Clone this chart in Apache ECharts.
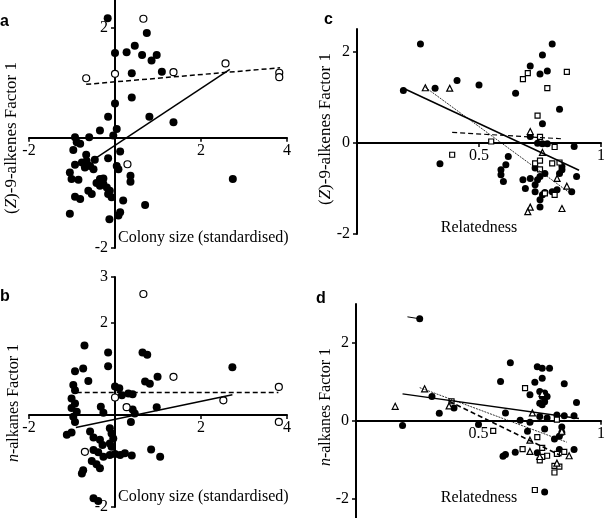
<!DOCTYPE html>
<html><head><meta charset="utf-8">
<script src="https://cdn.jsdelivr.net/npm/echarts@6/dist/echarts.min.js"></script>
<style>html,body{margin:0;padding:0;background:#fff}#c{width:608px;height:518px}</style>
</head><body><div id="c"></div>
<script>
// ---- Panel a: (Z)-9-alkenes Factor 1 vs colony size ----
const aFilled = [[-0.17,2.17],[0.74,1.90],[0,1.54],[0.27,1.55],[0.46,1.67],[0.63,1.50],[0.85,1.40],[0.97,1.50],[1.09,1.20],[0.39,1.17],[0.39,0.73],[0,0.62],[-0.16,0.38],[0.80,0.38],[1.36,0.28],[0.04,0.16],[-0.35,0.13],[-0.93,0.01],[-0.60,0.01],[-0.04,0.04],[-0.89,-0.08],[-0.81,-0.11],[-0.97,-0.22],[0.12,-0.25],[-0.16,-0.37],[-0.67,-0.31],[-0.47,-0.40],[-0.66,-0.42],[-0.77,-0.45],[-0.93,-0.49],[-0.58,-0.51],[-0.70,-0.54],[-0.50,-0.57],[-1.05,-0.63],[0.04,-0.51],[0.08,-0.57],[0.36,-0.69],[0.36,-0.80],[-1.01,-0.75],[-0.85,-0.76],[-0.35,-0.75],[-0.27,-0.74],[-0.43,-0.82],[-0.35,-0.87],[-0.27,-0.84],[-0.62,-0.96],[-0.54,-1.02],[-0.19,-0.90],[-0.12,-0.96],[-0.16,-1.02],[-0.08,-1.08],[-0.93,-1.07],[-0.81,-1.11],[0.19,-1.14],[-1.05,-1.38],[-0.13,-1.48],[0.08,-1.41],[0.12,-1.35],[0.70,-1.22],[2.74,-0.75]];
const aOpen = [[0.66,2.16],[0,1.16],[-0.67,1.08],[1.36,1.19],[2.57,1.35],[3.82,1.18],[3.82,1.10],[0.29,-0.48]];
const aSolidLine = [[-0.43,-0.36],[2.67,1.24]];
const aDashedLine = [[-0.67,0.97],[3.84,1.27]];

// ---- Panel b: n-alkanes Factor 1 vs colony size ----
const bFilled = [[-0.71,1.51],[-0.16,1.36],[0.64,1.36],[0.75,1.31],[-0.16,1.06],[-0.74,1.01],[-0.93,0.95],[-0.62,0.74],[0.99,0.83],[0.70,0.73],[0.81,0.68],[-0.97,0.65],[-0.93,0.54],[0,0.62],[0.10,0.58],[0.31,0.47],[0.16,0.43],[0.41,0.45],[-1.01,0.36],[-0.93,0.25],[-1.01,0.15],[-0.89,0.07],[-0.97,-0.04],[-0.93,-0.15],[-0.33,0.18],[-0.27,0.05],[0.41,0.12],[0.46,0.03],[0.37,-0.15],[-1.12,-0.43],[-1.01,-0.38],[-0.58,-0.36],[-0.50,-0.49],[-0.35,-0.54],[-0.29,-0.65],[-0.12,-0.29],[-0.08,-0.40],[-0.04,-0.51],[-0.12,-0.62],[-0.08,-0.69],[-0.50,-0.76],[-0.39,-0.81],[-0.27,-0.91],[-0.12,-0.87],[0,-0.85],[0.12,-0.87],[0.23,-0.83],[0.39,-0.88],[-0.54,-1.00],[-0.43,-1.07],[-0.35,-1.16],[-0.74,-1.20],[-0.77,-1.27],[-0.50,-1.81],[-0.39,-1.87],[0.97,0.17],[2.73,1.04],[0.84,-0.75],[1.05,-0.91]];
const bOpen = [[0.66,2.63],[1.36,0.83],[3.81,0.61],[2.52,0.32],[3.81,-0.15],[0.27,0.17],[0,0.38],[-0.70,-0.80]];
const bSolidLine = [[-0.91,-0.27],[2.73,0.44]];
const bDashedLine = [[-0.89,0.49],[3.80,0.49]];

// ---- Panel c: (Z)-9-alkenes Factor 1 vs relatedness ----
const cCircles = [[0.19,1.15],[0.26,2.17],[0.32,1.20],[0.41,1.37],[0.50,1.27],[0.34,-0.46],[0.65,1.09],[0.71,1.69],[0.75,1.51],[0.76,1.93],[0.78,1.58],[0.80,2.17],[0.83,0.74],[0.76,0.42],[0.71,0.14],[0.74,-0.01],[0.76,-0.02],[0.78,-0.02],[0.89,-0.08],[0.62,-0.30],[0.61,-0.48],[0.59,-0.59],[0.59,-0.70],[0.60,-0.85],[0.68,-0.81],[0.71,-0.78],[0.69,-1.00],[0.73,-0.92],[0.74,-0.81],[0.75,-0.74],[0.77,-0.67],[0.73,-1.07],[0.76,-1.14],[0.77,-1.09],[0.75,-1.25],[0.80,-1.07],[0.82,-1.03],[0.84,-0.59],[0.84,-0.52],[0.83,-0.67],[0.90,-0.74],[0.88,-1.07],[0.75,-1.41],[0.73,-0.55]];
const cSquares = [[0.55,0.03],[0.39,-0.26],[0.68,1.40],[0.70,1.53],[0.86,1.56],[0.78,1.20],[0.74,0.60],[0.75,0.13],[0.81,-0.09],[0.73,-0.45],[0.75,-0.39],[0.75,-0.58],[0.80,-0.45],[0.83,-0.43],[0.81,-1.14],[0.77,-1.11]];
const cTriangles = [[0.28,1.21],[0.38,1.20],[0.71,0.25],[0.76,-0.21],[0.82,-0.78],[0.86,-0.95],[0.71,-1.41],[0.70,-1.51],[0.84,-1.44]];
const cSolidLine = [[0.19,1.20],[0.91,-0.60]];
const cDashedLine = [[0.39,0.23],[0.84,0.09]];
const cDottedLine = [[0.28,1.22],[0.88,-1.13]];

// ---- Panel d: n-alkanes Factor 1 vs relatedness ----
const dCircles = [[0.26,2.62],[0.19,-0.12],[0.31,0.62],[0.34,0.19],[0.40,0.33],[0.50,-0.10],[0.59,1.01],[0.63,1.49],[0.61,0.20],[0.67,0.01],[0.71,-0.04],[0.71,0.67],[0.73,0.99],[0.74,1.39],[0.76,1.35],[0.79,1.35],[0.76,1.09],[0.85,0.95],[0.75,0.75],[0.77,0.71],[0.76,0.62],[0.78,0.62],[0.75,0.45],[0.77,0.49],[0.76,0.41],[0.90,0.47],[0.75,0.11],[0.78,0.07],[0.82,0.15],[0.85,0.13],[0.89,0.13],[0.70,-0.27],[0.77,-0.21],[0.84,-0.16],[0.84,-0.30],[0.81,-0.47],[0.83,-0.40],[0.60,-0.91],[0.61,-0.87],[0.65,-0.81],[0.74,-0.82],[0.83,-0.74],[0.89,-0.74],[0.77,-1.83]];
const dSquares = [[0.69,0.84],[0.39,0.50],[0.56,-0.26],[0.68,-0.73],[0.74,-0.42],[0.76,-0.70],[0.78,-0.90],[0.76,-0.93],[0.75,-1.02],[0.82,-0.85],[0.85,-0.80],[0.81,-1.16],[0.83,-1.18],[0.81,-1.33],[0.82,0.03],[0.73,-1.78]];
const dTriangles = [[0.16,0.37],[0.28,0.82],[0.38,0.38],[0.72,0.20],[0.76,0.70],[0.71,-0.50],[0.84,-0.27],[0.71,-0.79],[0.75,-0.92],[0.87,-0.90],[0.82,-1.09]];
const dSolidLine = [[0.19,0.69],[0.91,0.06]];
const dDashedLine = [[0.38,0.50],[0.84,-0.91]];
const dDottedLine = [[0.26,0.85],[0.86,-0.55]];
const dShortLine = [[0.21,2.67],[0.26,2.62]];

// ---- Axis ranges and tick labels ----
const xRanges = [[-2,4],[-2,4],[0,1],[0,1]];
const yRanges = [[-2,2.5],[-2,3],[-2,2.5],[-2.5,3]];
const xTickLabels = [[-2,2,4],[-2,2,4],[0.5,1],[0.5,1]];
const yTickLabels = [[-2,2],[-2,2,3],[-2,0,2],[-2,0,2]];

const SERIF = '"Liberation Serif", "Times New Roman", serif';
const chart = echarts.init(document.getElementById('c'), null, {renderer:'canvas'});

const grids = [
  {left:29, top:0, width:258, height:248},
  {left:29, top:277, width:258, height:230},
  {left:357, top:29, width:249, height:205},
  {left:356, top:304, width:248, height:214}
];

// axes cross at the origin: shift each axis from the grid edge to the zero of the other axis
function xAx(i){
  const g = grids[i], r = yRanges[i];
  const off = -g.height * (0 - r[0]) / (r[1] - r[0]);
  return {type:'value', gridIndex:i, min:xRanges[i][0], max:xRanges[i][1], position:'bottom', offset:off,
    axisLine:{onZero:false, lineStyle:{color:'#000', width:2}},
    axisTick:{show:true, length:4, customValues:xTickLabels[i], lineStyle:{color:'#000', width:1.5}},
    axisLabel:{customValues:xTickLabels[i], color:'#000', fontFamily:SERIF, fontSize:16, margin:5},
    splitLine:{show:false}};
}
function yAx(i){
  const g = grids[i], r = xRanges[i];
  const off = -g.width * (0 - r[0]) / (r[1] - r[0]);
  return {type:'value', gridIndex:i, min:yRanges[i][0], max:yRanges[i][1], position:'left', offset:off,
    axisLine:{onZero:false, lineStyle:{color:'#000', width:2}},
    axisTick:{show:true, length:4, customValues:yTickLabels[i], lineStyle:{color:'#000', width:1.5}},
    axisLabel:{customValues:yTickLabels[i], color:'#000', fontFamily:SERIF, fontSize:16, margin:7},
    splitLine:{show:false}};
}

function pts(i, data, symbol, size, open){
  return {type:'scatter', xAxisIndex:i, yAxisIndex:i, data:data, symbol:symbol, symbolSize:size,
    itemStyle: open ? {color:'#fff', borderColor:'#000', borderWidth:1.2, opacity:1} : {color:'#000', opacity:1},
    z: open ? 4 : 3, silent:true};
}
function ln(i, data, type, width){
  return {type:'line', xAxisIndex:i, yAxisIndex:i, data:data, symbol:'none',
    lineStyle:{color:'#000', width:width, type:type}, z:5, silent:true};
}

const series = [
  ln(0,aSolidLine,'solid',1.5), ln(0,aDashedLine,[5,3],1.5),
  pts(0,aFilled,'circle',8,false), pts(0,aOpen,'circle',7,true),
  ln(1,bSolidLine,'solid',1.5), ln(1,bDashedLine,[5,3],1.5),
  pts(1,bFilled,'circle',8,false), pts(1,bOpen,'circle',7,true),
  ln(2,cSolidLine,'solid',1.5), ln(2,cDashedLine,[5,3],1.2), ln(2,cDottedLine,[2,1],0.8),
  pts(2,cCircles,'circle',7,false), pts(2,cSquares,'rect',5,true), pts(2,cTriangles,'triangle',6,true),
  ln(3,dSolidLine,'solid',1.5), ln(3,dDashedLine,[5,3],1.5), ln(3,dDottedLine,[2,1],0.8), ln(3,dShortLine,'solid',1),
  pts(3,dCircles,'circle',7,false), pts(3,dSquares,'rect',5,true), pts(3,dTriangles,'triangle',6,true)
];

function rotTitle(x, y, text, size){
  return {type:'text', x:x, y:y, rotation:Math.PI/2, z:10,
    style:{text:text, fontFamily:SERIF, fontSize:size, fill:'#000', align:'center', verticalAlign:'middle',
      rich:{i:{fontStyle:'italic', fontFamily:SERIF, fontSize:size, fill:'#000'}, r:{fontFamily:SERIF, fontSize:size, fill:'#000'}}}};
}
function txt(x, y, text, font, align){
  return {type:'text', x:x, y:y, z:10, style:{text:text, font:font, fill:'#000', align:align||'left', verticalAlign:'middle'}};
}
const BOLD = 'bold 16px "Liberation Sans", Arial, sans-serif';

const graphic = [
  txt(0, 22, 'a', BOLD),
  txt(0, 297, 'b', BOLD),
  txt(324, 20, 'c', BOLD),
  txt(316, 299, 'd', BOLD),
  rotTitle(12, 138, '{r|(}{i|Z}{r|)-9-alkenes Factor 1}', 17),
  rotTitle(14, 403, '{i|n}{r|-alkanes Factor 1}', 16),
  rotTitle(326, 129, '{r|(}{i|Z}{r|)-9-alkenes Factor 1}', 17),
  rotTitle(326, 407, '{i|n}{r|-alkanes Factor 1}', 16),
  txt(118, 238, 'Colony size (standardised)', '16px ' + SERIF),
  txt(118, 497, 'Colony size (standardised)', '16px ' + SERIF),
  txt(479, 228, 'Relatedness', '16px ' + SERIF, 'center'),
  txt(479, 498, 'Relatedness', '16px ' + SERIF, 'center')
];

chart.setOption({
  animation:false,
  backgroundColor:'#fff',
  grid:grids,
  xAxis:[0,1,2,3].map(xAx),
  yAxis:[0,1,2,3].map(yAx),
  series:series,
  graphic:graphic
});
</script>
</body></html>
